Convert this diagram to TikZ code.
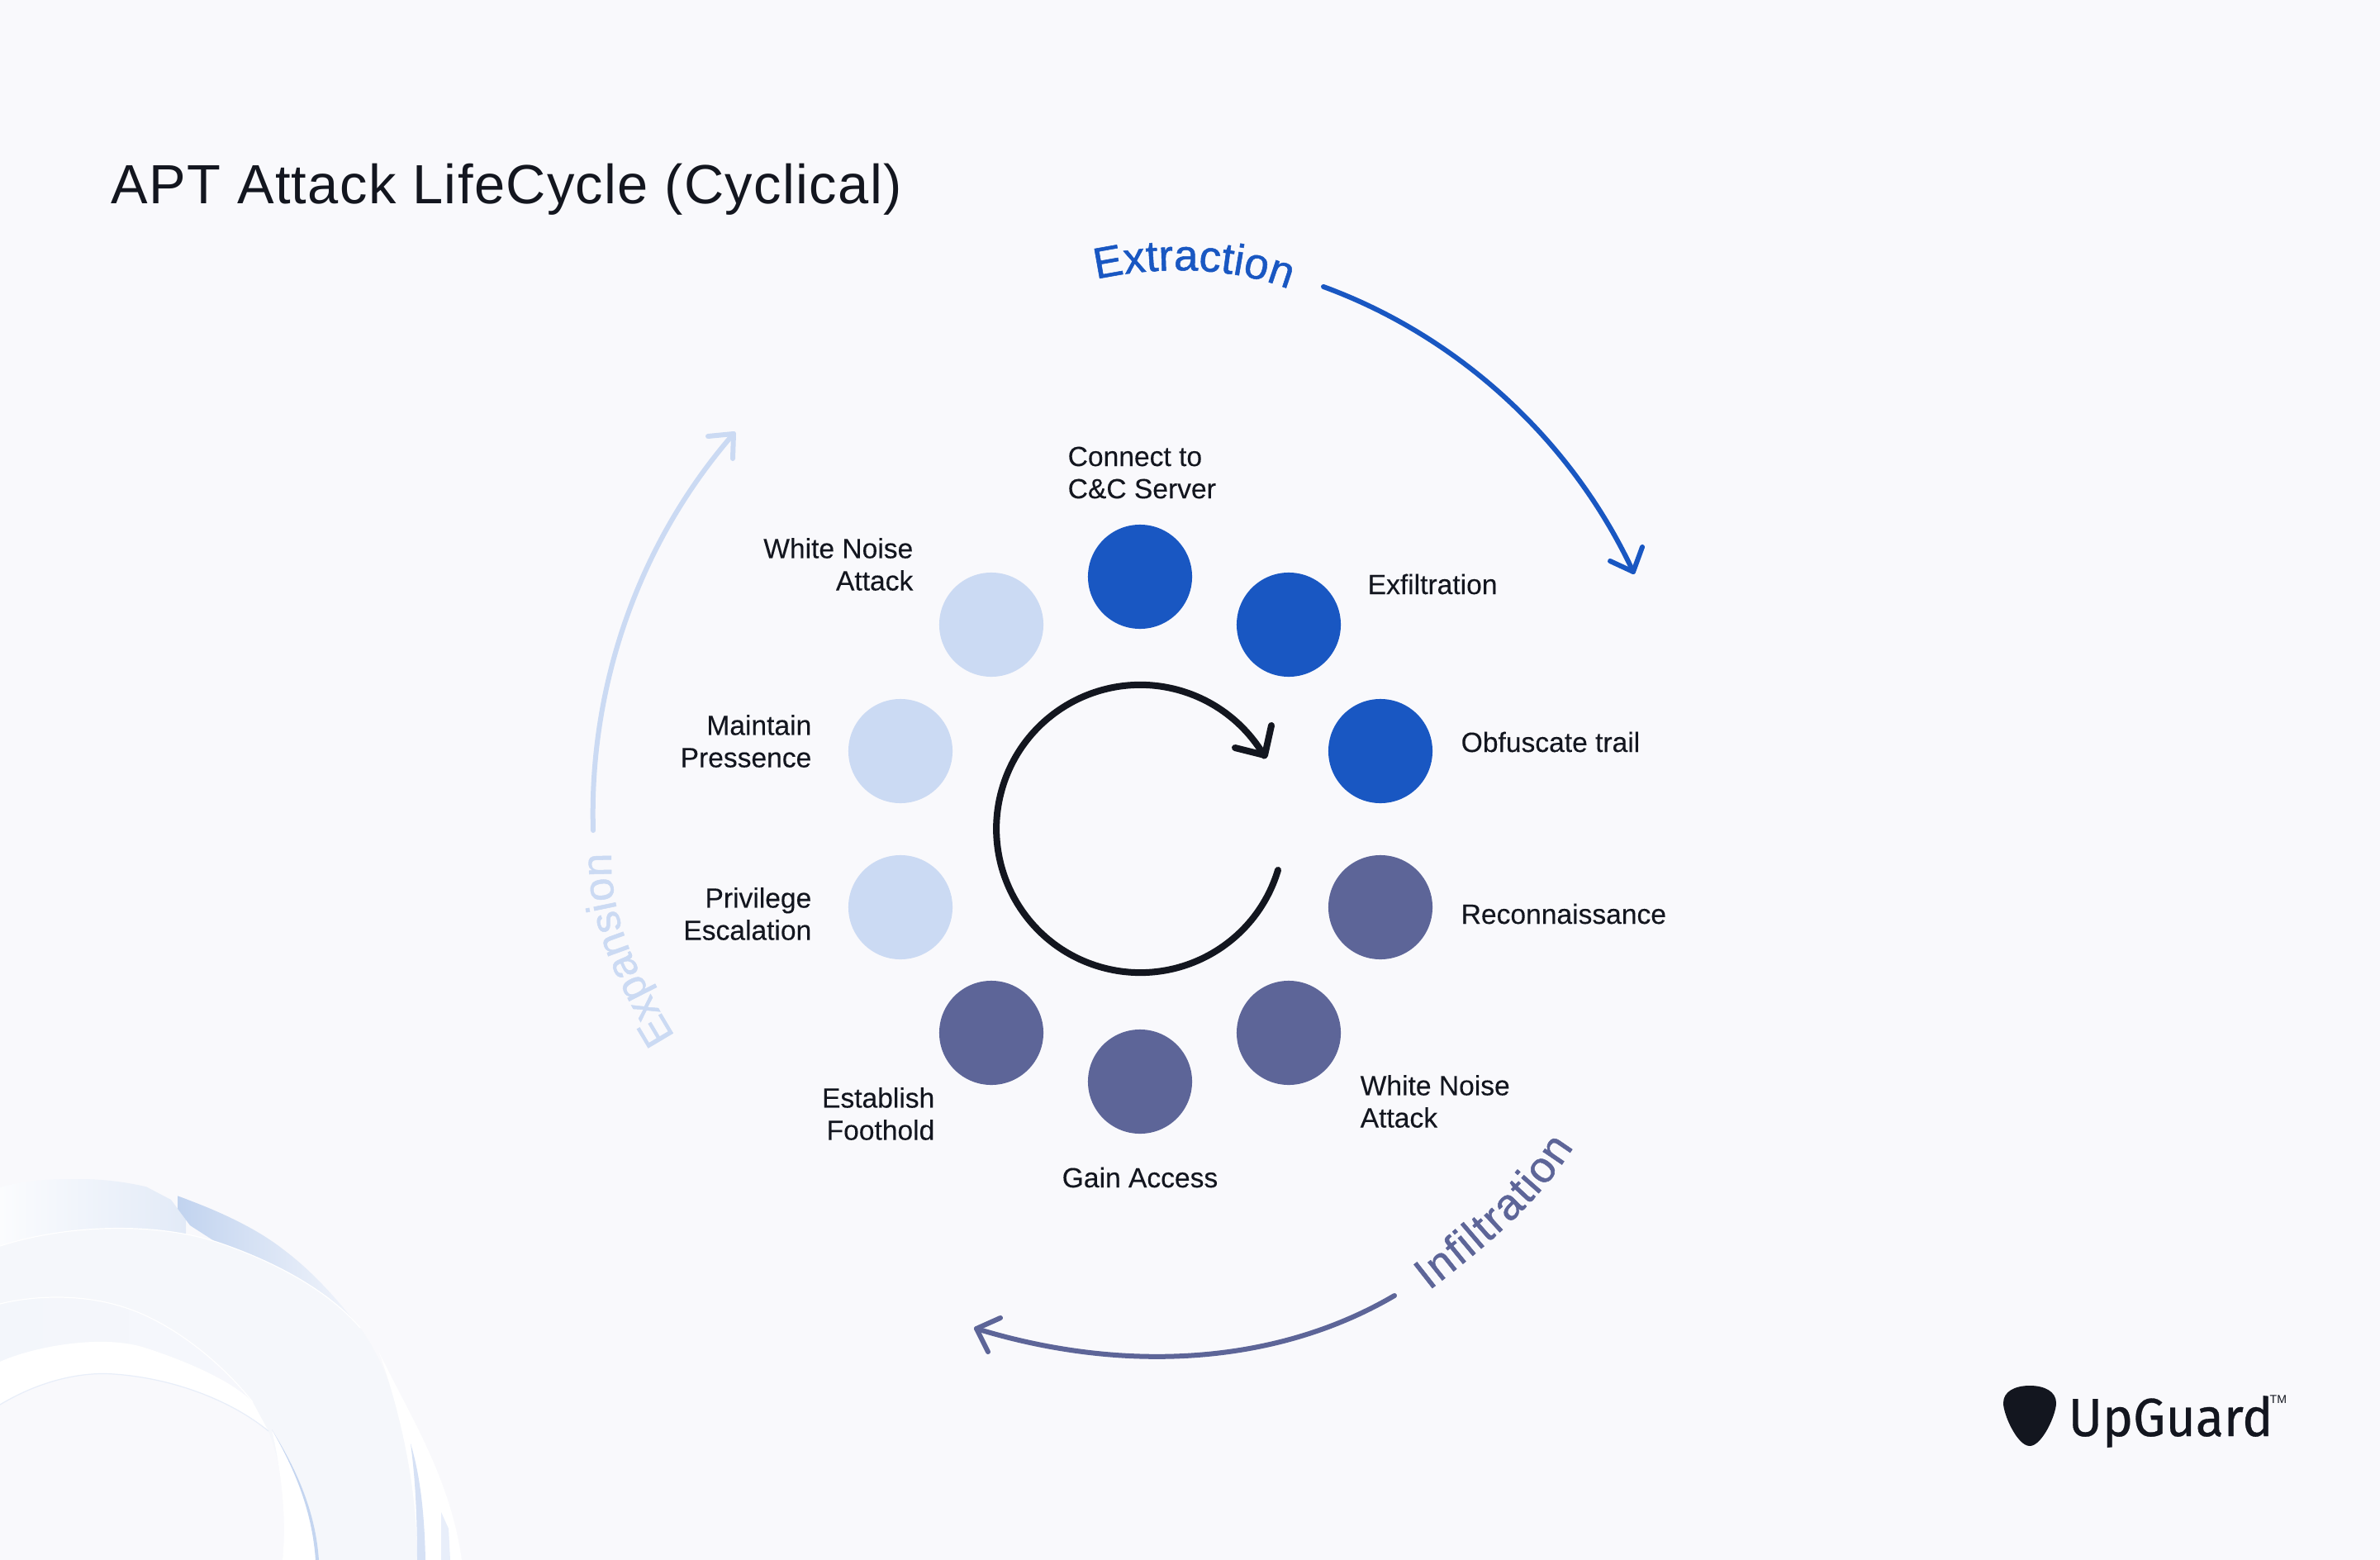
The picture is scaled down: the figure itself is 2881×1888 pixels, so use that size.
\documentclass[tikz,border=0pt]{standalone}
\usepackage{fontspec}
\setmainfont[FakeBold=0.15]{Liberation Sans}
\newfontfamily\titlefont[LetterSpace=2]{Liberation Sans}
\newfontfamily\curvefont[FakeBold=1]{Liberation Sans}
\newfontfamily\tmfont{Liberation Sans}
\newfontfamily\logofont[FakeBold=0.5]{Fira Sans}
\usetikzlibrary{decorations.text}
\definecolor{bgc}{HTML}{F9F9FC}
\definecolor{ink}{HTML}{13161F}
\definecolor{blueC}{HTML}{1957C2}
\definecolor{slateC}{HTML}{5D6598}
\definecolor{paleC}{HTML}{CBDAF3}
\tikzset{
  dot/.style={circle,minimum size=1.26cm,inner sep=0pt,draw=none},
  dotblue/.style={dot,fill=blueC},
  dotslate/.style={dot,fill=slateC},
  dotpale/.style={dot,fill=paleC},
  lab/.style={text=ink,inner sep=0pt,font=\fontsize{9.55}{11.1}\selectfont},
  labl/.style={lab,anchor=west,align=left},
  labr/.style={lab,anchor=east,align=right},
  arc line/.style={line width=0.06cm,line cap=round,line join=round},
}
\begin{document}
\begin{tikzpicture}[x=0.01cm,y=-0.01cm]
\useasboundingbox (0,0) rectangle (2881,1888);
\fill[bgc] (0,0) rectangle (2881,1888);

% decorative swoosh, lower left
\fill[color={rgb,255:red,245;green,247;blue,251}] (0,1508) .. controls (80,1482) and (190,1478) .. (268,1505)
  .. controls (340,1530) and (400,1565) .. (436,1607)
  .. controls (480,1670) and (505,1760) .. (505,1888) -- (0,1888) -- cycle;
\begin{scope}
  \clip (0,1578) .. controls (40,1568) and (100,1565) .. (153,1583)
    .. controls (205,1600) and (265,1645) .. (306,1697)
    .. controls (280,1670) and (220,1645) .. (172,1630)
    .. controls (120,1615) and (40,1630) .. (0,1648) -- cycle;
  \shade[left color={rgb,255:red,243;green,246;blue,251},middle color={rgb,255:red,227;green,234;blue,247},right color={rgb,255:red,246;green,247;blue,252}] (0,1560) rectangle (310,1700);
\end{scope}
\draw[white,line width=0.012cm] (0,1578) .. controls (40,1568) and (100,1565) .. (153,1583)
    .. controls (205,1600) and (265,1645) .. (306,1697);
\fill[white] (0,1648) .. controls (40,1630) and (120,1615) .. (172,1630)
    .. controls (220,1645) and (280,1670) .. (306,1697) -- (325,1732)
    .. controls (280,1695) and (210,1668) .. (138,1663)
    .. controls (100,1660) and (50,1670) .. (0,1700) -- cycle;
\fill[bgc] (0,1700) .. controls (50,1670) and (100,1660) .. (138,1663)
    .. controls (210,1668) and (280,1695) .. (325,1732)
    .. controls (340,1770) and (350,1830) .. (342,1888) -- (0,1888) -- cycle;
\draw[color={rgb,255:red,232;green,238;blue,249},line width=0.012cm] (0,1700) .. controls (50,1670) and (100,1660) .. (138,1663)
    .. controls (210,1668) and (280,1695) .. (325,1732);
\fill[white] (329,1730) .. controls (360,1780) and (382,1830) .. (386,1888) -- (342,1888)
    .. controls (348,1830) and (338,1770) .. (329,1730) -- cycle;
\fill[color={rgb,255:red,196;green,213;blue,240}] (329,1730) .. controls (360,1780) and (382,1830) .. (386,1888) -- (382,1888)
    .. controls (378,1830) and (358,1780) .. (329,1730) -- cycle;
\begin{scope}
  \clip (0,1437) .. controls (30,1428) and (60,1427) .. (96,1427)
    .. controls (145,1427) and (190,1437) .. (230,1453)
    .. controls (275,1470) and (315,1490) .. (344,1513)
    .. controls (380,1540) and (410,1575) .. (432,1603)
    .. controls (400,1565) and (340,1530) .. (268,1505)
    .. controls (190,1478) and (80,1482) .. (0,1508) -- cycle;
  \begin{scope}
    \clip (0,1400) -- (165,1400) -- (165,1430) -- (207,1452) -- (230,1483) -- (275,1512) -- (275,1620) -- (0,1620) -- cycle;
    \shade[left color={rgb,255:red,251;green,252;blue,254},right color={rgb,255:red,226;green,234;blue,247}] (0,1420) rectangle (225,1520);
  \end{scope}
  \begin{scope}
    \clip (165,1400) -- (165,1430) -- (207,1452) -- (230,1483) -- (275,1512) -- (275,1620) -- (480,1620) -- (480,1400) -- cycle;
    \shade[left color={rgb,255:red,193;green,211;blue,239},right color={rgb,255:red,245;green,247;blue,252}] (215,1420) rectangle (445,1620);
  \end{scope}
\end{scope}
\draw[white,line width=0.012cm] (0,1508) .. controls (80,1482) and (190,1478) .. (268,1505)
  .. controls (340,1530) and (400,1565) .. (436,1607);
\fill[white] (459,1637) .. controls (500,1720) and (545,1790) .. (559,1888) -- (505,1888)
  .. controls (505,1800) and (485,1710) .. (459,1637) -- cycle;
\fill[color={rgb,255:red,214;green,225;blue,245}] (497,1747) .. controls (503,1790) and (505,1840) .. (505,1888) -- (515,1888)
  .. controls (514,1840) and (510,1790) .. (497,1747) -- cycle;
\fill[color={rgb,255:red,232;green,238;blue,250}] (534,1830) -- (534,1888) -- (545,1888) -- (543,1850) -- cycle;

% title
\node[anchor=base west,inner sep=0pt,text=ink,font=\titlefont\fontsize{19}{23}\selectfont] (title) at (134,247) {APT Attack LifeCycle (Cyclical)};

% stages
\node[dotblue]  (s1)  at (1380,698)  {};
\node[dotblue]  (s2)  at (1560,756)  {};
\node[dotblue]  (s3)  at (1671,909)  {};
\node[dotslate] (s4)  at (1671,1098) {};
\node[dotslate] (s5)  at (1560,1250) {};
\node[dotslate] (s6)  at (1380,1309) {};
\node[dotslate] (s7)  at (1200,1250) {};
\node[dotpale]  (s8)  at (1090,1098) {};
\node[dotpale]  (s9)  at (1090,909)  {};
\node[dotpale]  (s10) at (1200,756)  {};

% labels
\node[labl] (l1) at (1292,572) {Connect to\\C\&C Server};
\node[labl] (l2) at (1655,707) {Exfiltration};
\node[labl] (l3) at (1768,898) {Obfuscate trail};
\node[labl] (l4) at (1768,1106) {Reconnaissance};
\node[labl] (l5) at (1646,1333) {White Noise\\Attack};
\node[lab]  (l6) at (1380,1425) {Gain Access};
\node[labr] (l7) at (1132,1348) {Establish\\Foothold};
\node[labr] (l8) at (983,1106) {Privilege\\Escalation};
\node[labr] (l9) at (983,897) {Maintain\\Pressence};
\node[labr] (l10) at (1106,683) {White Noise\\Attack};

% central arrow
\coordinate (cs) at (1547,1053);
\coordinate (ct) at (1531,914);
\coordinate (cb1) at (1539,878);
\coordinate (cb2) at (1495,905);
\draw[ink,line width=0.08cm,line cap=round] (cs) arc[start angle=-16.7,end angle=-329.5,radius=1.74cm];
\draw[ink,line width=0.08cm,line cap=round,line join=round] (cb1) -- (ct) -- (cb2);

% extraction
\coordinate (es) at (1602,347);
\coordinate (et) at (1977,692);
\coordinate (eb1) at (1949,679);
\coordinate (eb2) at (1988,662);
\draw[arc line,blueC] (es) .. controls (1766,407) and (1903,533) .. (et);
\draw[arc line,blueC] (eb1) -- (et) -- (eb2);
\path[decorate,decoration={text along path,text align={fit to path},
  text={|\curvefont\fontsize{15}{15}\selectfont\color{blueC}|Extraction}}]
  (1327,338) .. controls (1400,322) and (1490,322) .. (1560,350);

% infiltration
\coordinate (is) at (1688,1568);
\coordinate (it) at (1182,1608);
\coordinate (ib1) at (1211,1595);
\coordinate (ib2) at (1196,1636);
\draw[arc line,slateC] (is) .. controls (1538,1656) and (1351,1660) .. (it);
\draw[arc line,slateC] (ib1) -- (it) -- (ib2);
\path[decorate,decoration={text along path,text align={fit to path},
  text={|\curvefont\fontsize{15}{15}\selectfont\color{slateC}|Infiltration}}]
  (1730,1562) .. controls (1790,1515) and (1860,1460) .. (1905,1388);

% expansion
\coordinate (xs) at (718,1005);
\coordinate (xt) at (888,525);
\coordinate (xb1) at (857,528);
\coordinate (xb2) at (887,555);
\draw[arc line,paleC] (xs) .. controls (713,830) and (773,657) .. (xt);
\draw[arc line,paleC] (xb1) -- (xt) -- (xb2);
\path[decorate,decoration={text along path,text align={fit to path},
  text={|\curvefont\fontsize{14.5}{15}\selectfont\color{paleC}|Expansion}}]
  (817,1254) .. controls (775,1185) and (738,1115) .. (740,1035);

% logo
\fill[ink] (2457,1677) .. controls (2475,1677) and (2489,1684) .. (2489,1698)
  .. controls (2489,1712) and (2472,1750) .. (2457,1750)
  .. controls (2442,1750) and (2425,1712) .. (2425,1698)
  .. controls (2425,1684) and (2439,1677) .. (2457,1677) -- cycle;
\node[anchor=base west,inner sep=0pt,text=ink,font=\logofont\fontsize{18.5}{20}\selectfont,xscale=0.96] (logo) at (2503,1738) {UpGuard};
\node[anchor=base west,inner sep=0pt,text=ink,font=\tmfont\fontsize{4}{4}\selectfont] (tm) at (2747,1698) {TM};
\end{tikzpicture}
\end{document}
